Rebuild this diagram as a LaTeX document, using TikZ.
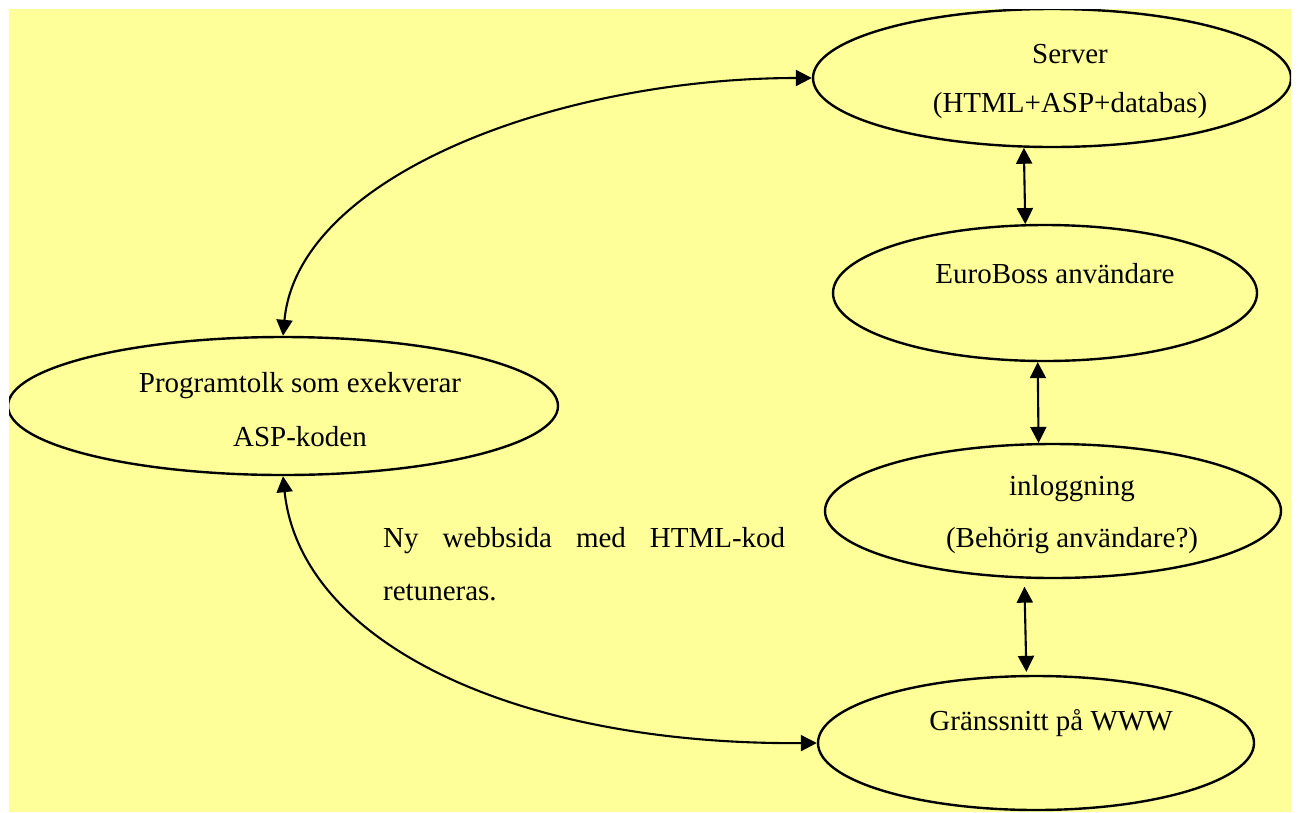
\documentclass[tikz,border=0pt]{standalone}
\usepackage{fontspec}
\setmainfont{Liberation Serif}
\usetikzlibrary{shapes.geometric,arrows.meta}
\definecolor{paper}{HTML}{FFFF99}
\begin{document}
\begin{tikzpicture}[x=1pt,y=-1pt,
  oval/.style={draw, ellipse, line width=2.4pt, inner sep=0pt},
  txt/.style={anchor=base, inner sep=0pt, font=\fontsize{29}{35}\selectfont},
  tip/.tip={Triangle[length=16pt,width=16pt]},
  link/.style={line width=2.1pt, tip-tip}]
\useasboundingbox (0,0) rectangle (1303,812);
\fill[paper] (9,9) rectangle (1291,812);
\clip (9,9) rectangle (1291,812);

% the five stations
\node[oval, minimum width=478pt, minimum height=138pt] (server) at (1052,78) {};
\node[oval, minimum width=424pt, minimum height=136pt] (euro) at (1045,293) {};
\node[oval, minimum width=550pt, minimum height=138pt] (prog) at (283,406) {};
\node[oval, minimum width=456pt, minimum height=134pt] (login) at (1053,511) {};
\node[oval, minimum width=436pt, minimum height=134pt] (www) at (1036,743) {};

% their labels
\node[txt] (server-a) at (1070,63) {Server};
\node[txt] (server-b) at (1070,112) {(HTML+ASP+databas)};
\node[txt] (euro-a) at (1055,283) {EuroBoss användare};
\node[txt] (prog-a) at (300,392) {Programtolk som exekverar};
\node[txt] (prog-b) at (300,446) {ASP-koden};
\node[txt] (login-a) at (1072,495) {inloggning};
\node[txt] (login-b) at (1072,547) {(Behörig användare?)};
\node[txt] (www-a) at (1051,730) {Gränssnitt på WWW};

% free text about the returned page
\node[anchor=base west, inner sep=0pt] (note) at (383,547)
  {\parbox[t]{402pt}{\fontsize{29}{53}\selectfont Ny webbsida med HTML-kod\linebreak retuneras.}};

% connectors
\draw[link] (prog.north) .. controls (298,175) and (560,78) .. (server.west);
\draw[link] (prog.south) .. controls (300,640) and (510,745) .. (www.west);
\draw[link] (server.248.5) -- (euro.106.5);
\draw[link] (euro.264) -- (login.102.65);
\draw[link, shorten <=8pt, shorten >=3pt] (login.247.9) -- (www.98.5);
\end{tikzpicture}
\end{document}
